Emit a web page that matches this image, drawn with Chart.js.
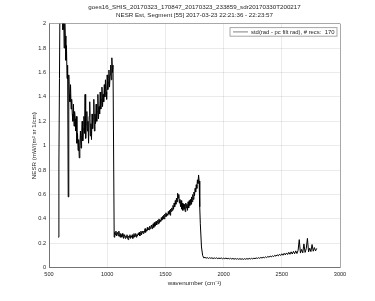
<!DOCTYPE html>
<html>
<head>
<meta charset="utf-8">
<script src="https://cdn.jsdelivr.net/npm/chart.js@4"></script>
<style>
  html, body { margin: 0; padding: 0; background: #fff; }
  canvas { display: block; }
</style>
</head>
<body>
<canvas id="nesr" width="375" height="301"></canvas>
<script>
const titleLines = [
    'goes16_SHIS_20170323_170847_20170323_233859_sdr20170330T200217',
    'NESR Est, Segment [55] 2017-03-23 22:21:36 - 22:23:57'
];
const seriesLabel = 'std(rad - pc filt rad), # recs:  170';
const xTitle = 'wavenumber (cm\u207B\u00B9)';
const yTitle = 'NESR (mW/(m\u00B2 sr 1/cm)';

const xTicks = [500, 1000, 1500, 2000, 2500, 3000];
const yTicks = [0, 0.2, 0.4, 0.6, 0.8, 1, 1.2, 1.4, 1.6, 1.8, 2];

// spectral bands, sampled on a regular wavenumber grid
const band1Start = 580, band1Step = 5;
const band1Nesr = [
    0.25, 0.85, 1.55, 2.30, 2.10, 2.45, 2.05, 2.35, 1.95, 2.20,
    1.80, 2.05, 1.90, 1.70, 1.82, 1.55, 1.66, 0.58, 1.58, 1.42,
    1.36, 1.50, 1.30, 1.38, 1.26, 1.20, 1.34, 1.16, 1.28, 1.22,
    1.12, 1.24, 1.02, 1.10, 0.96, 1.05, 0.90, 1.00, 1.12, 0.98,
    1.08, 1.20, 1.04, 1.14, 1.24, 1.10, 1.42, 1.06, 1.18, 1.28,
    1.12, 1.20, 1.02, 1.24, 1.36, 1.08, 1.18, 1.05, 1.26, 1.14,
    1.22, 1.38, 1.12, 1.26, 1.18, 1.34, 1.20, 1.28, 1.42, 1.22,
    1.32, 1.26, 1.44, 1.30, 1.38, 1.48, 1.32, 1.42, 1.36, 1.50,
    1.40, 1.54, 1.44, 1.38, 1.58, 1.46, 1.52, 1.62, 1.48, 1.58,
    1.66, 1.54, 1.72, 1.60, 1.66
];

const band2Start = 1060, band2Step = 5;
const band2Nesr = [
    0.25, 0.29, 0.27, 0.30, 0.26, 0.28, 0.29, 0.26, 0.30, 0.27,
    0.25, 0.28, 0.27, 0.25, 0.28, 0.26, 0.24, 0.27, 0.26, 0.24,
    0.26, 0.25, 0.27, 0.24, 0.23, 0.26, 0.25, 0.27, 0.24, 0.26,
    0.25, 0.27, 0.24, 0.26, 0.28, 0.25, 0.26, 0.28, 0.25, 0.27,
    0.26, 0.28, 0.27, 0.29, 0.26, 0.28, 0.30, 0.27, 0.29, 0.30,
    0.28, 0.30, 0.29, 0.32, 0.29, 0.31, 0.30, 0.33, 0.31, 0.32,
    0.31, 0.34, 0.32, 0.33, 0.35, 0.32, 0.34, 0.36, 0.33, 0.37,
    0.34, 0.36, 0.38, 0.35, 0.37, 0.39, 0.36, 0.40, 0.37, 0.39,
    0.38, 0.41, 0.39, 0.42, 0.40, 0.43, 0.40, 0.44, 0.42, 0.45,
    0.42, 0.44, 0.43, 0.46, 0.44, 0.47, 0.43, 0.48, 0.46, 0.49,
    0.47, 0.51, 0.48, 0.53, 0.50, 0.55, 0.52, 0.57, 0.54, 0.61,
    0.57, 0.60, 0.53, 0.56, 0.50, 0.55, 0.48, 0.53, 0.47, 0.52,
    0.48, 0.52, 0.46, 0.53, 0.49, 0.52, 0.47, 0.54, 0.49, 0.55,
    0.51, 0.56, 0.52, 0.58, 0.54, 0.60, 0.56, 0.62, 0.59, 0.65,
    0.62, 0.68, 0.65, 0.72, 0.69, 0.76, 0.71, 0.50
];

const band3Start = 1800, band3Step = 10;
const band3Nesr = [
    0.36, 0.17, 0.10, 0.080, 0.085, 0.078, 0.083, 0.076, 0.082, 0.077,
    0.081, 0.075, 0.080, 0.076, 0.081, 0.074, 0.079, 0.075, 0.080, 0.073,
    0.078, 0.074, 0.079, 0.073, 0.077, 0.072, 0.077, 0.071, 0.076, 0.070,
    0.075, 0.070, 0.074, 0.069, 0.074, 0.069, 0.073, 0.068, 0.074, 0.069,
    0.075, 0.070, 0.076, 0.071, 0.077, 0.072, 0.078, 0.074, 0.080, 0.076,
    0.082, 0.077, 0.084, 0.079, 0.086, 0.081, 0.089, 0.083, 0.092, 0.086,
    0.095, 0.088, 0.098, 0.091, 0.102, 0.094, 0.106, 0.097, 0.110, 0.100,
    0.114, 0.102, 0.118, 0.105, 0.121, 0.108, 0.126, 0.110, 0.130, 0.112,
    0.134, 0.114, 0.138, 0.116, 0.142, 0.230, 0.120, 0.150, 0.122, 0.195,
    0.125, 0.155, 0.240, 0.130, 0.160, 0.132, 0.190, 0.135, 0.165, 0.138,
    0.158
];

const textColor = '#262626';
const gridColor = 'rgba(38,38,38,0.12)';
const boxColor = 'rgba(38,38,38,0.5)';
const fontFamily = '"Liberation Sans", Arial, Helvetica, sans-serif';

function bandPoints(start, step, values) {
    return values.map((v, i) => ({ x: start + i * step, y: v }));
}

const spectrum = [
    ...bandPoints(band1Start, band1Step, band1Nesr),
    ...bandPoints(band2Start, band2Step, band2Nesr),
    ...bandPoints(band3Start, band3Step, band3Nesr)
];

// MATLAB style legend box sitting inside the axes, top right
const legendBoxPlugin = {
    id: 'legendBox',
    afterDraw: (chart) => {
        const ctx = chart.ctx;
        const area = chart.chartArea;
        const ds = chart.data.datasets[0];
        ctx.save();
        ctx.font = `5.9px ${fontFamily}`;
        const tw = ctx.measureText(ds.label).width;
        const h = 8.5, sample = 15;
        const w = 3 + sample + 3 + tw + 2.5;
        const x = area.right - 3 - w;
        const y = area.top + 4;
        ctx.fillStyle = '#fff';
        ctx.fillRect(x, y, w, h);
        ctx.strokeStyle = boxColor;
        ctx.lineWidth = 0.8;
        ctx.strokeRect(x, y, w, h);
        ctx.beginPath();
        ctx.moveTo(x + 3, y + h / 2);
        ctx.lineTo(x + 3 + sample, y + h / 2);
        ctx.strokeStyle = ds.borderColor;
        ctx.lineWidth = 0.5;
        ctx.stroke();
        ctx.fillStyle = textColor;
        ctx.textBaseline = 'middle';
        ctx.fillText(ds.label, x + 3 + sample + 3, y + h / 2);
        ctx.restore();
    }
};

const edgeColor = (lo, hi) => (c) =>
    (c.tick && (c.tick.value === lo || c.tick.value === hi)) ? boxColor : gridColor;

new Chart(document.getElementById('nesr'), {
    type: 'line',
    data: {
        datasets: [{
            label: seriesLabel,
            data: spectrum,
            borderColor: '#000',
            borderWidth: 1,
            pointRadius: 0,
            tension: 0
        }]
    },
    options: {
        responsive: false,
        animation: false,
        devicePixelRatio: 1,
        layout: { padding: { left: 0, right: 35, top: 0, bottom: 0 } },
        plugins: {
            legend: { display: false },
            tooltip: { enabled: false },
            title: {
                display: true,
                text: titleLines,
                fullSize: false,
                color: textColor,
                font: { family: fontFamily, size: 6.2, weight: 'normal', lineHeight: 1.4 },
                padding: { top: 2.7, bottom: 3.6 }
            }
        },
        scales: {
            x: {
                type: 'linear',
                min: 500,
                max: 3000,
                afterBuildTicks: (s) => { s.ticks = xTicks.map(v => ({ value: v })); },
                afterFit: (s) => { s.height = 33.3; },
                ticks: {
                    color: textColor,
                    font: { family: fontFamily, size: 5.6 },
                    padding: 3,
                    maxRotation: 0,
                    callback: (v) => String(v)
                },
                grid: { color: edgeColor(500, 3000), lineWidth: 0.8, drawTicks: false },
                border: { color: boxColor, width: 0.8 },
                title: {
                    display: true,
                    text: xTitle,
                    color: textColor,
                    font: { family: fontFamily, size: 6.2 },
                    padding: { top: 0, bottom: 14.3 }
                }
            },
            y: {
                min: 0,
                max: 2,
                afterBuildTicks: (s) => { s.ticks = yTicks.map(v => ({ value: v })); },
                afterFit: (s) => { s.width = 49; },
                ticks: {
                    color: textColor,
                    font: { family: fontFamily, size: 5.6 },
                    padding: 3,
                    callback: (v) => String(parseFloat(v.toFixed(1)))
                },
                grid: { color: edgeColor(0, 2), lineWidth: 0.8, drawTicks: false },
                border: { color: boxColor, width: 0.8 },
                title: {
                    display: true,
                    text: yTitle,
                    color: textColor,
                    font: { family: fontFamily, size: 6.2 },
                    padding: { top: 30.3, bottom: 0 }
                }
            }
        }
    },
    plugins: [legendBoxPlugin]
});
</script>
</body>
</html>
